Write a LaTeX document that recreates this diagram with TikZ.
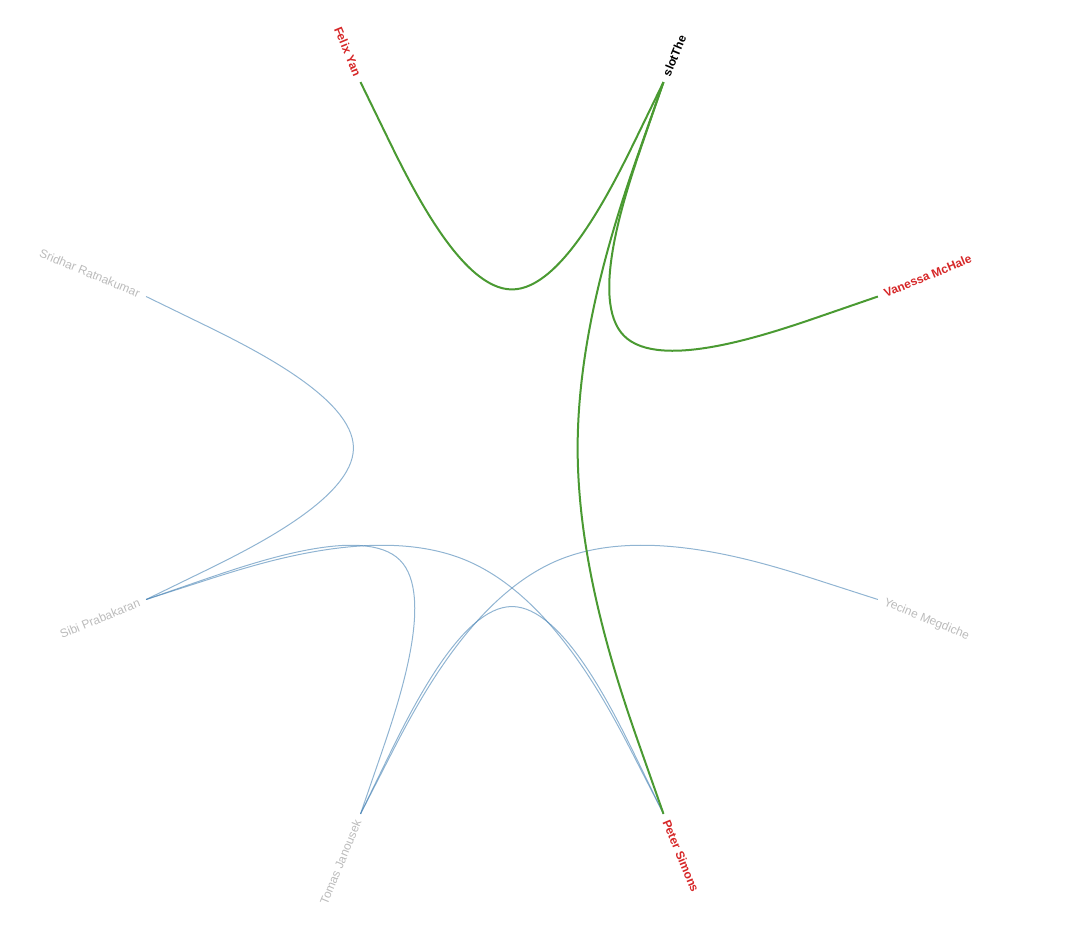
\documentclass[tikz,border=0pt]{standalone}
\usepackage{fontspec}
\setmainfont{Liberation Sans}
\usetikzlibrary{calc}
\definecolor{linkgreen}{RGB}{74,154,50}
\definecolor{linkblue}{RGB}{70,130,180}
\definecolor{namered}{RGB}{214,39,40}
\definecolor{namegray}{RGB}{187,187,187}
\tikzset{
  lbl/.style={inner xsep=7pt, inner ysep=0pt, font=\fontsize{12}{14}\selectfont},
  lblR/.style={lbl, anchor=west},
  lblL/.style={lbl, anchor=east},
  dim/.style={text=namegray},
  hot/.style={text=namered, font=\fontsize{12}{14}\selectfont\bfseries},
  src/.style={text=black, font=\fontsize{12}{14}\selectfont\bfseries},
  plainedge/.style={draw=linkblue, draw opacity=0.6, line width=1pt},
  hotedge/.style={draw=linkgreen, line width=2pt},
}
\newcommand{\bundle}[3]{%
  \coordinate (bm) at ($0.85*(C)+0.075*(#2)+0.075*(#3)$);
  \draw[#1] (#2) -- ($(#2)!1/6!(bm)$)
    .. controls ($(#2)!1/3!(bm)$) and ($(#2)!2/3!(bm)$) .. ($1/6*(#2)+4/6*(bm)+1/6*(#3)$)
    .. controls ($(bm)!1/3!(#3)$) and ($(bm)!2/3!(#3)$) .. ($(bm)!5/6!(#3)$) -- (#3);
}
\begin{document}
\begin{tikzpicture}[x=1pt, y=-1pt]
\useasboundingbox (0,0) rectangle (1065,929);
\coordinate (C) at (512,448);
\coordinate (slot) at (663.5,82.1);
\coordinate (van) at (877.9,296.5);
\coordinate (yec) at (877.9,599.5);
\coordinate (pet) at (663.5,813.9);
\coordinate (tom) at (360.5,813.9);
\coordinate (sibi) at (146.1,599.5);
\coordinate (srid) at (146.1,296.5);
\coordinate (felix) at (360.5,82.1);
% background links
\bundle{plainedge}{srid}{sibi}
\bundle{plainedge}{sibi}{tom}
\bundle{plainedge}{sibi}{pet}
\bundle{plainedge}{tom}{yec}
\bundle{plainedge}{tom}{pet}
% highlighted links
\bundle{hotedge}{felix}{slot}
\bundle{hotedge}{slot}{van}
\bundle{hotedge}{slot}{pet}
% labels
\node[lblR, src, rotate=67.5] (Lslot) at (slot) {slotThe};
\node[lblR, hot, rotate=22.5] (Lvan) at (van) {Vanessa McHale};
\node[lblR, dim, rotate=-22.5] (Lyec) at (yec) {Yecine Megdiche};
\node[lblR, hot, rotate=-67.5] (Lpet) at (pet) {Peter Simons};
\node[lblL, dim, rotate=67.5] (Ltom) at (tom) {Tomas Janousek};
\node[lblL, dim, rotate=22.5] (Lsibi) at (sibi) {Sibi Prabakaran};
\node[lblL, dim, rotate=-22.5] (Lsrid) at (srid) {Sridhar Ratnakumar};
\node[lblL, hot, rotate=-67.5] (Lfelix) at (felix) {Felix Yan};
\end{tikzpicture}
\end{document}
